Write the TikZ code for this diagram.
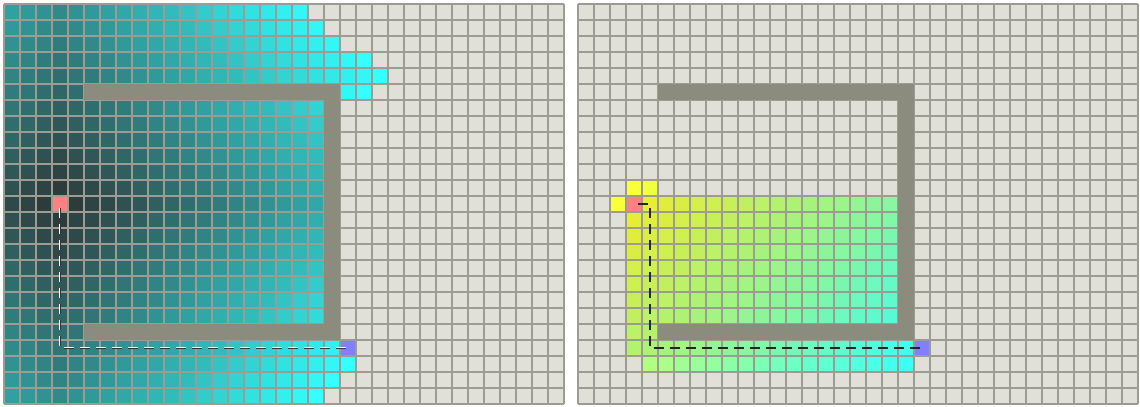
\documentclass[tikz,border=0pt]{standalone}
\usepackage{xcolor}
\usepackage{tikz}
\usetikzlibrary{positioning}
\definecolor{cellbg}{HTML}{E0E0D8}
\definecolor{gridgray}{HTML}{9C9C92}
\definecolor{wallgray}{HTML}{8B8B7E}
\definecolor{bfsnear}{HTML}{2E3535}
\definecolor{bfsfar}{HTML}{33FFFF}
\definecolor{astarnear}{HTML}{FFFF33}
\definecolor{astarfar}{HTML}{33FFFF}
\definecolor{startpink}{HTML}{FF8080}
\definecolor{goalblue}{HTML}{8080FF}

\begin{document}
\begin{tikzpicture}[x=0.4cm, y=-0.4cm,
  gridln/.style={draw=gridgray, line width=0.9pt},
  wall/.style={fill=wallgray},
  endcell/.style={minimum size=0.4cm, inner sep=0pt, outer sep=0pt},
  dashes/.style={dash pattern=on 7.11pt off 4.27pt, dash phase=8.54pt},
  lpathdark/.style={dashes, draw=black!80, line width=0.8pt, transform canvas={shift={(0.35pt,-0.35pt)}}},
  lpathlight/.style={dashes, draw=white, line width=0.8pt, transform canvas={shift={(-0.3pt,0.3pt)}}},
  rpath/.style={dashes, draw=black!85, line width=1.1pt}
]
  \useasboundingbox (-0.25,-0.25) rectangle (71,25.1875);

  % breadth-first search
  \begin{scope}
    \fill[cellbg] (0,0) rectangle (35,25);
    \foreach \r/\a/\b/\e in {0/0/18/0, 1/0/19/0, 2/0/20/0, 3/0/22/0, 4/0/23/0,
        5/0/4/0, 5/21/22/2, 6/0/19/0, 7/0/19/0, 8/0/19/0, 9/0/19/0, 10/0/19/0,
        11/0/19/0, 12/0/19/0, 13/0/19/0, 14/0/19/0, 15/0/19/0, 16/0/19/0,
        17/0/19/0, 18/0/19/0, 19/0/19/0, 20/0/4/0, 21/0/20/0, 22/0/21/0,
        23/0/20/0, 24/0/19/0}
      \foreach \c in {\a,...,\b} {
        \pgfmathtruncatemacro\t{100*(abs(\c-3)+abs(\r-12)+\e)/28}
        \fill[fill=bfsfar!\t!bfsnear] (\c,\r) rectangle ++(1,1);
      }
    \node[endcell, fill=startpink] (lstart) at (3.5,12.5) {};
    \node[endcell, fill=goalblue] (lgoal) at (21.5,21.5) {};
    \foreach \c in {0,...,35} \draw[gridln] (\c,0) -- (\c,25);
    \foreach \r in {0,...,25} \draw[gridln] (0,\r) -- (35,\r);
    \fill[wall] (5,5) rectangle (21,6);
    \fill[wall] (20,5) rectangle (21,21);
    \fill[wall] (5,20) rectangle (21,21);
    \draw[lpathdark] (lstart.center) |- (lgoal.center);
    \draw[lpathlight] (lstart.center) |- (lgoal.center);
  \end{scope}

  % a-star search
  \begin{scope}[shift={(35.875,0)}]
    \fill[cellbg] (0,0) rectangle (35,25);
    \foreach \r/\a/\b/\k in {11/3/4/100, 12/2/2/100, 12/4/19/0, 13/3/19/0,
        14/3/19/0, 15/3/19/0, 16/3/19/0, 17/3/19/0, 18/3/19/0, 19/3/19/0,
        20/3/4/0, 21/3/20/0, 22/4/20/100}
      \foreach \c in {\a,...,\b} {
        \pgfmathtruncatemacro\g{abs(\c-3)+abs(\r-12)}
        \pgfmathtruncatemacro\t{100*\g/28}
        \pgfmathtruncatemacro\f{max(\k,93+\g/4)}
        \fill[fill=astarfar!\t!astarnear!\f!black] (\c,\r) rectangle ++(1,1);
      }
    \node[endcell, fill=startpink] (rstart) at (3.5,12.5) {};
    \node[endcell, fill=goalblue] (rgoal) at (21.5,21.5) {};
    \coordinate (rbend) at (4.5,12.5);
    \foreach \c in {0,...,35} \draw[gridln] (\c,0) -- (\c,25);
    \foreach \r in {0,...,25} \draw[gridln] (0,\r) -- (35,\r);
    \fill[wall] (5,5) rectangle (21,6);
    \fill[wall] (20,5) rectangle (21,21);
    \fill[wall] (5,20) rectangle (21,21);
    \draw[rpath] (rstart.center) -- (rbend) |- (rgoal.center);
  \end{scope}
\end{tikzpicture}
\end{document}
